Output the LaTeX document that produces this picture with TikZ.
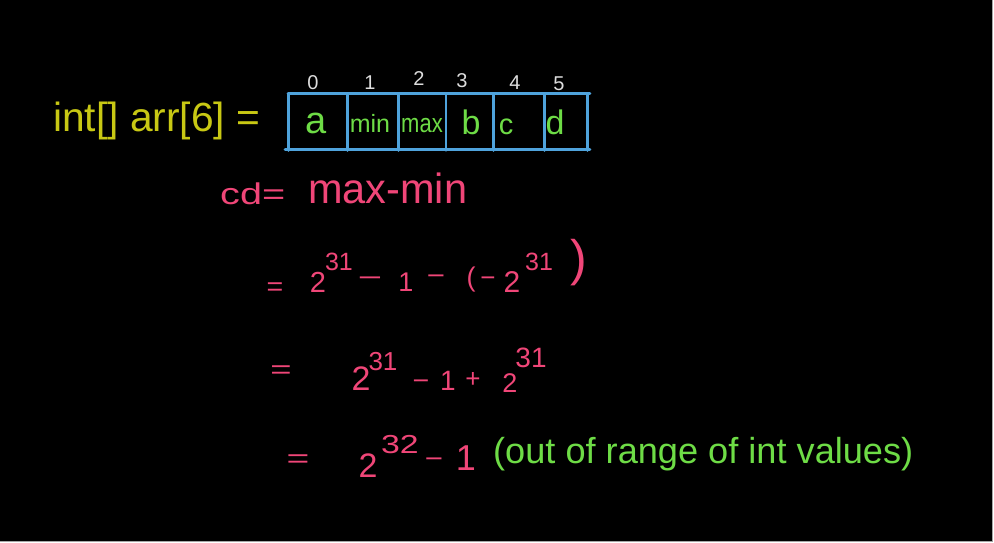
\documentclass[tikz,border=0pt]{standalone}
\usepackage{graphicx}
\usepackage{fontspec}
\setmainfont{Liberation Sans}
\definecolor{chalkyellow}{HTML}{C8C814}
\definecolor{chalkblue}{HTML}{4FA3DC}
\definecolor{chalkgreen}{HTML}{6EDC46}
\definecolor{chalkpink}{HTML}{F04678}
\definecolor{chalkwhite}{HTML}{DDDDDD}
\newcommand{\fsz}[1]{\fontsize{#1}{#1}\selectfont}
\begin{document}
\begin{tikzpicture}[x=1pt,y=-1pt,
  pk/.style={text=chalkpink, inner sep=0pt, anchor=base},
  gr/.style={text=chalkgreen, inner sep=0pt, anchor=base},
  idx/.style={text=chalkwhite, inner sep=0pt, anchor=base, font=\fsz{20}},
  gridline/.style={draw=chalkblue, line width=2.6pt, line cap=round}]
\useasboundingbox (0,0) rectangle (994,543);
\fill[white] (0,0) rectangle (994,543);
\fill[black] (0,0) rectangle (992,540.5);
\draw[gray!70, line width=1pt] (992.5,0) -- (992.5,541) -- (0,541);

% declaration
\node[anchor=base west, inner sep=0pt, text=chalkyellow] (decl) at (53,131)
  {\resizebox{207pt}{!}{int[] arr[6] =}};

% array grid
\coordinate (tl) at (288,93.5);
\coordinate (tr) at (590,93.5);
\coordinate (bl) at (285,149.5);
\coordinate (br) at (590,149.5);
\draw[gridline] (tl) -- (tr);
\draw[gridline] (bl) -- (br);
\foreach \i/\xx in {0/288.5,1/347.5,2/398.5,3/446,4/493.5,5/544.5,6/587.5}{
  \coordinate (vt\i) at (\xx,93.5);
  \coordinate (vb\i) at (\xx,150.5);
  \draw[gridline] (vt\i) -- (vb\i);
}

% indices
\node[idx] (i0) at (313,90) {0};
\node[idx] (i1) at (370,89) {1};
\node[idx] (i2) at (419,86) {2};
\node[idx] (i3) at (462,88) {3};
\node[idx] (i4) at (515,90) {4};
\node[idx] (i5) at (559,91) {5};

% cell contents
\node[gr, font=\fsz{38}] (ca) at (316,133) {a};
\node[gr, font=\fsz{25}] (cmin) at (370,132) {min};
\node[gr, font=\fsz{22}] (cmax) at (422,132) {\scalebox{1}[1.2]{max}};
\node[gr, font=\fsz{34}] (cb) at (471,135) {b};
\node[gr, font=\fsz{29}] (cc) at (506,135) {c};
\node[gr, font=\fsz{34}] (cd) at (555,135) {d};

% line 1
\node[anchor=south west, inner sep=0pt, text=chalkpink] (lhs) at (220,205)
  {\resizebox*{65pt}{22pt}{cd=}};
\node[anchor=south west, inner sep=0pt, text=chalkpink] (maxmin) at (308,204)
  {\resizebox*{159pt}{31pt}{max-min}};

% line 2
\node[pk, font=\fsz{26}] (eA) at (275,295) {\scalebox{1.1}[1]{=}};
\node[pk, font=\fsz{29}] (eA2) at (318,292) {2};
\node[pk, font=\fsz{25}] (eA31) at (339,270) {31};
\node[pk, font=\fsz{26}] (eAm1) at (370,286) {\scalebox{1.6}[1]{−}};
\node[pk, font=\fsz{27}] (eA1) at (406,291) {1};
\node[pk, font=\fsz{26}] (eAm2) at (436,284) {\scalebox{1.2}[1]{−}};
\node[pk, font=\fsz{27}, anchor=center] (eAlp) at (471,279.5) {(};
\node[pk, font=\fsz{26}] (eAm3) at (488,286) {−};
\node[pk, font=\fsz{30}] (eAb) at (512,292) {2};
\node[pk, font=\fsz{25}] (eAb31) at (539,270) {31};
\node[pk, font=\fsz{50}, anchor=center] (eArp) at (579,262.5) {)};

% line 3
\node[pk, font=\fsz{26}] (eB) at (281,378) {\scalebox{1.4}[1]{=}};
\node[pk, font=\fsz{34}] (eB2) at (361,390) {2};
\node[pk, font=\fsz{26}] (eB31) at (383,370) {31};
\node[pk, font=\fsz{26}] (eBm) at (421,389) {\scalebox{1.1}[1]{−}};
\node[pk, font=\fsz{28}] (eB1) at (448,390) {1};
\node[pk, font=\fsz{26}] (eBp) at (473,387) {+};
\node[pk, font=\fsz{27}] (eBb) at (510,392) {2};
\node[pk, font=\fsz{28}] (eBb31) at (531,367) {31};

% line 4
\node[pk, font=\fsz{26}] (eC) at (298,467) {\scalebox{1.5}[1]{=}};
\node[pk, font=\fsz{34}] (eC2) at (368,477) {2};
\node[pk, font=\fsz{26}] (eC32) at (400,453) {\scalebox{1.3}[1]{32}};
\node[pk, font=\fsz{26}] (eCm) at (434,467) {\scalebox{1.2}[1]{−}};
\node[pk, font=\fsz{36}] (eC1) at (466,470) {1};
\node[anchor=base west, inner sep=0pt, text=chalkgreen] (note) at (493,463)
  {\resizebox{420pt}{!}{(out of range of int values)}};
\end{tikzpicture}
\end{document}
